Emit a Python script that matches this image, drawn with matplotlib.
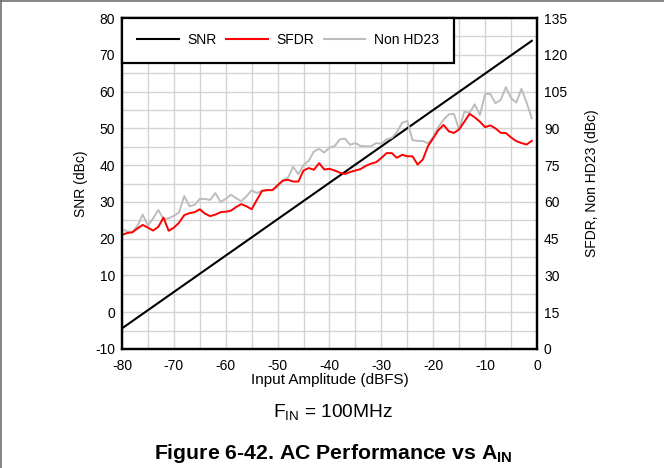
import matplotlib
matplotlib.use("Agg")
import matplotlib.pyplot as plt
from matplotlib.ticker import MultipleLocator
from matplotlib.lines import Line2D

plt.rcParams['font.family'] = ['Liberation Sans', 'DejaVu Sans']
plt.rcParams['mathtext.fontset'] = 'custom'
plt.rcParams['mathtext.rm'] = 'Liberation Sans'
plt.rcParams['mathtext.bf'] = 'Liberation Sans:bold'
plt.rcParams['axes.unicode_minus'] = False

# input amplitude (dBFS), 1 dB steps
ain = list(range(-80, 0))

# SNR (dBc), left axis - straight line end points
snr_x = [-80, -1]
snr = [-4.4, 73.8]

# SFDR (dBc), right axis
sfdr = [46.5, 47.3, 47.6, 49.2, 50.6, 49.5, 48.3, 49.8, 53.6, 48.2,
        49.5, 51.5, 54.6, 55.4, 55.8, 57.0, 55.2, 54.2, 54.8, 55.8,
        56.0, 56.4, 57.9, 59.1, 58.2, 57.0, 60.8, 64.5, 64.8, 64.8,
        66.8, 68.7, 69.0, 68.3, 68.3, 72.8, 73.8, 73.1, 75.8, 73.2,
        73.5, 72.8, 71.9, 71.4, 72.2, 72.8, 73.4, 74.7, 75.6, 76.2,
        77.9, 79.9, 79.9, 78.0, 79.2, 78.6, 78.6, 75.2, 77.3, 82.8,
        86.0, 89.3, 91.4, 88.8, 88.1, 89.6, 92.7, 95.9, 94.5, 92.7,
        90.5, 91.2, 90.0, 88.2, 88.1, 86.3, 84.8, 84.0, 83.4, 84.9]

# Non HD23 (dBc), right axis
nonhd23 = [48.9, 48.0, 47.6, 50.3, 54.8, 50.3, 53.3, 56.7, 53.0, 53.3,
           54.3, 55.7, 62.4, 58.2, 58.8, 61.2, 61.2, 60.8, 63.6, 60.0,
           61.2, 62.9, 61.5, 60.3, 62.3, 64.7, 63.6, 64.5, 64.8, 64.8,
           66.0, 68.7, 69.9, 74.3, 71.3, 75.0, 76.8, 80.6, 81.6, 80.1,
           82.2, 82.8, 85.5, 85.8, 83.3, 84.0, 82.8, 82.7, 82.7, 84.0,
           83.7, 85.5, 86.1, 88.4, 92.3, 93.0, 85.2, 84.9, 84.8, 83.9,
           86.4, 90.6, 93.5, 95.7, 95.9, 89.4, 96.8, 96.3, 99.8, 95.4,
           104.0, 104.0, 100.2, 101.6, 106.8, 102.3, 100.5, 106.1, 100.5, 94.1]

fig = plt.figure(figsize=(6.64, 4.68), dpi=100)
ax = fig.add_axes([0.1837, 0.2543, 0.625, 0.7072])
ax2 = ax.twinx()

ax.plot(snr_x, snr, color='black', lw=1.5, zorder=3)
ax2.plot(ain, nonhd23, color='#bdbdbd', lw=1.4)
ax2.plot(ain, sfdr, color='#ff0000', lw=1.4)

ax.set_xlim(-80, 0)
ax.set_ylim(-10, 80)
ax2.set_ylim(0, 135)
ax.xaxis.set_major_locator(MultipleLocator(10))
ax.xaxis.set_minor_locator(MultipleLocator(5))
ax.yaxis.set_major_locator(MultipleLocator(10))
ax.yaxis.set_minor_locator(MultipleLocator(5))
ax2.yaxis.set_major_locator(MultipleLocator(15))

ax.grid(True, which='both', color='#d3d3d3', lw=1.0)
ax.set_axisbelow(True)

for a in (ax, ax2):
    for s in a.spines.values():
        s.set_linewidth(1.6)
        s.set_color('black')
ax.tick_params(which='both', length=0, labelsize=10, pad=5)
ax2.tick_params(which='both', length=0, labelsize=10, pad=5)
ax.tick_params(axis='x', pad=7)

ax.set_xlabel('Input Amplitude (dBFS)', fontsize=11, labelpad=0)
ax.set_ylabel('SNR (dBc)', fontsize=10, labelpad=5)
ax2.set_ylabel('SFDR, Non HD23 (dBc)', fontsize=10, labelpad=12.5)

handles = [Line2D([], [], color='black', lw=1.5),
           Line2D([], [], color='#ff0000', lw=1.5),
           Line2D([], [], color='#bdbdbd', lw=1.5)]
leg = ax2.legend(handles, ['SNR', 'SFDR', 'Non HD23'], loc='upper left',
                 bbox_to_anchor=(0, 1), borderaxespad=0, ncol=3,
                 fontsize=10, fancybox=False, framealpha=1, edgecolor='black',
                 handlelength=3.0, handletextpad=0.6, columnspacing=0.7,
                 borderpad=1.1)
leg.get_frame().set_linewidth(1.6)

fig.text(0.502, 0.118, r'F$_{\mathrm{IN}}$ = 100MHz', ha='center', va='center', fontsize=13.8)
fig.text(0.502, 0.03, r'Figure 6-42. AC Performance vs A$_{\mathbf{IN}}$', ha='center',
         va='center', fontsize=15.3, weight='bold')

# page frame lines (top and left)
fig.add_artist(Line2D([0, 1], [0.998, 0.998], color='#707070', lw=1.2, transform=fig.transFigure))
fig.add_artist(Line2D([0.0015, 0.0015], [0, 1], color='#707070', lw=1.2, transform=fig.transFigure))

fig.savefig('out.png', dpi=100)
